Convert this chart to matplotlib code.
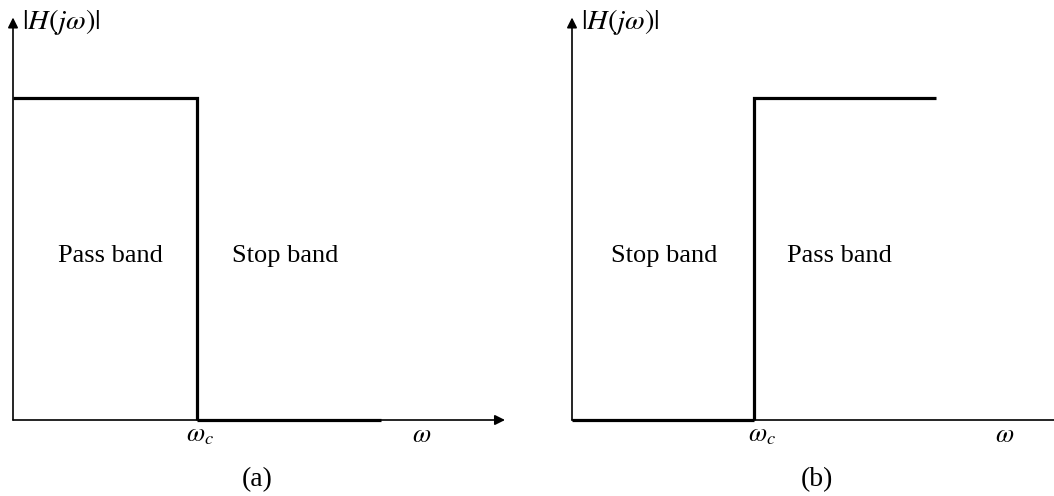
import matplotlib
matplotlib.use("Agg")
import matplotlib.pyplot as plt

plt.rcParams['font.family'] = ['Liberation Serif', 'DejaVu Serif']
plt.rcParams['mathtext.fontset'] = 'stix'

# Data: ideal filter magnitude responses (omega in units of omega_c)
omega_c = 1.0
omega_end = 2.0
lowpass_omega = [0.0, omega_c, omega_c, omega_end]
lowpass_mag = [1.0, 1.0, 0.0, 0.0]
highpass_omega = [0.0, omega_c, omega_c, omega_end]
highpass_mag = [0.0, 0.0, 1.0, 1.0]
band_labels_a = ["Pass band", "Stop band"]
band_labels_b = ["Stop band", "Pass band"]
panel_labels = ["(a)", "(b)"]

fig = plt.figure(figsize=(10.54, 4.96), dpi=100)

def setup(ax, xlim, ylim):
    ax.set_xlim(*xlim)
    ax.set_ylim(*ylim)
    ax.axis('off')

thin = 1.2
thick = 2.3
fs = 19
arrow = dict(arrowstyle='-|>', lw=thin, color='black',
             mutation_scale=15, shrinkA=0, shrinkB=0)

sa = 184.0
sb = 182.0
ylim = (-76/322, 420/322)

# ---- panel (a)
axa = fig.add_axes([0, 0, 0.5, 1])
setup(axa, (-13/sa, 514/sa), ylim)
axa.annotate('', xy=(0, 1.25), xytext=(0, 0), arrowprops=arrow)
axa.annotate('', xy=(492/sa, 0), xytext=(0, 0), arrowprops=arrow)
axa.plot(lowpass_omega[:3], lowpass_mag[:3], color='black', lw=thick,
         solid_joinstyle='miter', solid_capstyle='butt')
axa.plot(lowpass_omega[2:], lowpass_mag[2:], color='black', lw=thick,
         solid_capstyle='butt')
axa.text(9/sa, 1.236, r'$|H(j\omega)|$', fontsize=20.5, ha='left', va='center')
axa.text(97/sa, 0.51, band_labels_a[0], fontsize=fs, ha='center', va='center')
axa.text(272/sa, 0.51, band_labels_a[1], fontsize=fs, ha='center', va='center')
axa.text(omega_c + 3/sa, -0.05, r'$\omega_c$', fontsize=fs, ha='center', va='center')
axa.text(409/sa, -0.05, r'$\omega$', fontsize=fs, ha='center', va='center')
axa.text(244/sa, -0.186, panel_labels[0], fontsize=20, ha='center', va='center')

# ---- panel (b)
axb = fig.add_axes([0.5, 0, 0.5, 1])
setup(axb, (-45/sb, 482/sb), ylim)
axb.annotate('', xy=(0, 1.25), xytext=(0, 0), arrowprops=arrow)
axb.annotate('', xy=(494/sb, 0), xytext=(0, 0), annotation_clip=False,
             arrowprops=arrow)
axb.plot(highpass_omega[:2], highpass_mag[:2], color='black', lw=thick,
         solid_capstyle='butt')
axb.plot(highpass_omega[1:], highpass_mag[1:], color='black', lw=thick,
         solid_joinstyle='miter', solid_capstyle='butt')
axb.text(9/sb, 1.236, r'$|H(j\omega)|$', fontsize=20.5, ha='left', va='center')
axb.text(92/sb, 0.51, band_labels_b[0], fontsize=fs, ha='center', va='center')
axb.text(267/sb, 0.51, band_labels_b[1], fontsize=fs, ha='center', va='center')
axb.text(omega_c + 8/sb, -0.05, r'$\omega_c$', fontsize=fs, ha='center', va='center')
axb.text(433/sb, -0.05, r'$\omega$', fontsize=fs, ha='center', va='center')
axb.text(245/sb, -0.186, panel_labels[1], fontsize=20, ha='center', va='center')

fig.savefig('out.png', dpi=100)
